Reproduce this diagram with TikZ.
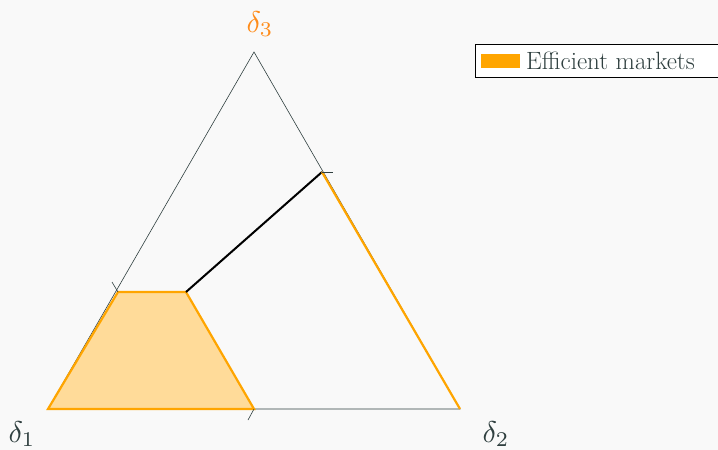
\documentclass[tikz,border=0pt]{standalone}
\usepackage{fontspec}
\newcommand{\biglab}[1]{\scalebox{3.0}{$#1$}}
\begin{document}
\begin{tikzpicture}[x=1pt,y=-1pt,
  edge/.style={draw=txtgray,line width=0.6pt},
  tickmark/.style={draw=txtgray,line width=0.6pt},
  region/.style={draw=orange,fill=orange!40,line width=2.2pt,line join=miter},
  thickline/.style={draw=black,line width=2pt},
  vlabel/.style={text=txtgray,inner sep=0pt}]
\definecolor{txtgray}{HTML}{2F3F3F}
\definecolor{bg}{HTML}{F9F9F9}
\definecolor{orange}{HTML}{FFA500}
\definecolor{dorange}{HTML}{FF8C1A}
\fill[bg] (0,0) rectangle (718,450);
\useasboundingbox (0,0) rectangle (718,450);
\coordinate (A) at (48,409);
\coordinate (B) at (460,409);
\coordinate (C) at (254,52);
\coordinate (P) at (118,292);
\coordinate (Q) at (186,292);
\coordinate (M) at (254,409);
\coordinate (R) at (322,172);
% triangle
\draw[edge] (A) -- (B) -- (C) -- cycle;
% region
\draw[region] (A) -- (P) -- (Q) -- (M) -- cycle;
\draw[thickline] (Q) -- (R);
\draw[draw=orange,line width=2.2pt] (R) -- (B);
% ticks
\coordinate (Mt) at (248,420);
\coordinate (Pt) at (112,282);
\coordinate (Rt) at (333,172);
\draw[tickmark] (M) -- (Mt);
\draw[tickmark] (P) -- (Pt);
\draw[tickmark] (R) -- (Rt);
% labels
\node[vlabel] (l1) at (22,434) {\biglab{\delta_1}};
\node[vlabel] (l2) at (496,434) {\biglab{\delta_2}};
\node[vlabel,text=dorange] (l3) at (260,24) {\biglab{\delta_3}};
% legend
\node[draw=black,line width=0.8pt,fill=white,minimum width=243pt,minimum height=33pt,inner sep=0pt] (leg) at (596.5,60.5) {};
\node[fill=orange,minimum width=39pt,minimum height=14pt,inner sep=0pt] (sw) at (500.5,60.5) {};
\node[anchor=base west,text=txtgray,font=\fontsize{25}{28}\selectfont,inner sep=0pt] (lt) at (526,69) {Efficient markets};
\end{tikzpicture}
\end{document}
